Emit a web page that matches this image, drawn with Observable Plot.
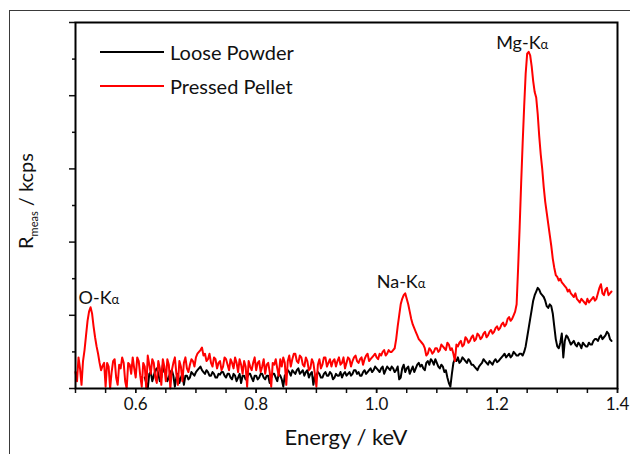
<!DOCTYPE html>
<html><head><meta charset="utf-8">
<script src="https://cdn.jsdelivr.net/npm/d3@7"></script>
<script src="https://cdn.jsdelivr.net/npm/@observablehq/plot@0.6"></script>
<style>
body{margin:0;background:#fff;}
#wrap{position:relative;width:630px;height:454px;overflow:hidden;font-family:Lato,sans-serif;background:#fff;}
#wrap svg{position:absolute;left:0;top:0;}
.ftop{position:absolute;left:9px;top:10px;width:640px;height:0;border-top:1.5px solid #3a3a3a;}
.fleft{position:absolute;left:9px;top:10px;width:0;height:460px;border-left:1.5px solid #3a3a3a;}
.leg{position:absolute;left:100px;height:20px;display:flex;align-items:center;font-size:20px;color:#111;}
.leg span.sw{display:inline-block;width:64px;height:2px;margin-right:6px;}
</style>
</head><body>
<div id="wrap"><div class="ftop"></div><div class="fleft"></div></div>
<script>
// Energy channels (keV), coarse set
const energy = [
0.500,0.505,0.510,0.515,0.520,0.525,0.530,0.535,0.540,0.545,
0.550,0.555,0.560,0.565,0.570,0.575,0.580,0.585,0.590,0.595,
0.600,0.605,0.610,0.615,0.620,0.625,0.630,0.635,0.640,0.645,
0.650,0.655,0.660,0.665,0.670,0.675,0.680,0.685,0.690,0.695,
0.700,0.705,0.710,0.715,0.720,0.725,0.730,0.735,0.740,0.745,
0.750,0.755,0.760,0.765,0.770,0.775,0.780,0.785,0.790,0.795,
0.800,0.805,0.810,0.815,0.820,0.825,0.830,0.835,0.840,0.845,
0.850,0.855,0.860,0.865,0.870,0.875,0.880,0.885,0.890,0.895,
0.900,0.905,0.910,0.915,0.920,0.925,0.930,0.935,0.940,0.945,
0.950,0.955,0.960,0.965,0.970,0.975,0.980,0.985,0.990,0.995,
1.000,1.005,1.010,1.015,1.020,1.025,1.030,1.035,1.040,1.045,
1.050,1.055,1.060,1.065,1.070,1.075,1.080,1.085,1.090,1.095,
1.100,1.105,1.110,1.115,1.120,1.125,1.130,1.135,1.140,1.145,
1.150,1.155,1.160,1.165,1.170,1.175,1.180,1.185,1.190,1.195,
1.200,1.205,1.210,1.215,1.220,1.225,1.230,1.235,1.240,1.245,
1.250,1.255,1.260,1.265,1.270,1.275,1.280,1.285,1.290,1.295,
1.300,1.305,1.310,1.315,1.320,1.325,1.330,1.335,1.340,1.345,
1.350,1.355,1.360,1.365,1.370,1.375,1.380,1.385,1.390];

// Pressed Pellet (red), coarse set
const pressedPellet = [
0.45,0.85,0.10,1.05,1.85,2.22,1.70,1.15,0.70,0.62,
0.05,0.60,0.45,0.80,0.10,0.55,0.70,0.00,0.65,0.85,
0.30,0.75,0.05,0.60,0.90,0.40,0.70,0.15,0.55,0.80,
0.20,0.65,0.50,0.85,0.10,0.60,0.70,0.55,0.65,0.75,
0.85,1.00,1.12,0.95,0.80,0.70,0.85,0.55,0.75,0.60,
0.80,0.50,0.70,0.85,0.45,0.65,0.75,0.05,0.60,0.70,
0.50,0.75,0.60,0.40,0.70,0.05,0.65,0.55,0.80,0.85,
0.10,0.90,0.80,0.95,0.70,0.85,0.60,0.75,0.55,0.70,
0.05,0.80,0.65,0.85,0.70,0.60,0.80,0.75,0.65,0.85,
0.70,0.80,0.75,0.90,0.70,0.85,0.80,0.95,0.80,0.90,
0.85,0.95,1.00,0.90,1.05,1.00,1.10,1.70,2.30,2.55,
2.45,2.10,1.75,1.55,1.35,1.25,1.10,0.95,1.05,1.00,
1.10,1.05,1.15,1.05,1.20,1.10,0.75,1.15,1.30,1.20,
1.35,1.30,1.45,1.35,1.45,1.40,1.55,1.45,1.60,1.55,
1.70,1.65,1.80,1.75,1.95,1.90,2.10,3.30,5.60,7.70,
9.15,9.10,8.40,7.95,6.90,6.00,5.10,4.50,3.90,3.30,
3.05,3.00,2.85,2.75,2.70,2.55,2.60,2.40,2.45,2.35,
2.45,2.40,2.50,2.45,2.75,2.60,2.70,2.55,2.65];

// Loose Powder (black), coarse set
const loosePowder = [
null,null,null,null,null,null,null,null,null,null,
null,null,null,null,null,null,null,null,null,null,
null,null,null,0.30,0.00,0.45,0.35,0.55,0.20,0.65,
0.40,0.30,0.50,0.05,0.40,0.30,0.10,0.35,0.30,0.40,
0.45,0.55,0.50,0.40,0.45,0.35,0.40,0.30,0.38,0.45,
0.30,0.40,0.25,0.35,0.30,0.15,0.35,0.30,0.40,0.20,
0.35,0.30,0.40,0.25,0.35,0.30,0.40,0.20,0.35,0.05,
0.40,0.45,0.50,0.40,0.55,0.45,0.35,0.50,0.40,0.10,
0.35,0.40,0.30,0.45,0.35,0.40,0.30,0.35,0.45,0.40,
0.35,0.45,0.40,0.50,0.45,0.35,0.50,0.45,0.55,0.50,
0.55,0.45,0.60,0.50,0.55,0.60,0.45,0.60,0.30,0.65,
0.55,0.40,0.60,0.55,0.70,0.65,0.50,0.75,0.80,0.65,
0.70,0.55,0.60,0.50,0.15,0.40,0.80,0.85,0.75,0.80,
0.70,0.75,0.65,0.55,0.60,0.70,0.75,0.65,0.70,0.75,
0.72,0.80,0.90,0.85,0.95,0.90,0.95,0.90,0.95,1.00,
1.40,1.90,2.40,2.65,2.70,2.55,2.40,2.20,2.25,1.70,
1.15,1.25,0.85,1.45,1.30,1.25,1.20,1.25,1.10,1.20,
1.15,1.20,1.30,1.35,1.40,1.35,1.45,1.50,1.30];

// In-between channels (keV)
const energyMid = [
0.5025,0.5075,0.5125,0.5175,0.5225,0.5275,0.5325,0.5375,0.5425,0.5475,
0.5525,0.5575,0.5625,0.5675,0.5725,0.5775,0.5825,0.5875,0.5925,0.5975,
0.6025,0.6075,0.6125,0.6175,0.6225,0.6275,0.6325,0.6375,0.6425,0.6475,
0.6525,0.6575,0.6625,0.6675,0.6725,0.6775,0.6825,0.6875,0.6925,0.6975,
0.7025,0.7075,0.7125,0.7175,0.7225,0.7275,0.7325,0.7375,0.7425,0.7475,
0.7525,0.7575,0.7625,0.7675,0.7725,0.7775,0.7825,0.7875,0.7925,0.7975,
0.8025,0.8075,0.8125,0.8175,0.8225,0.8275,0.8325,0.8375,0.8425,0.8475,
0.8525,0.8575,0.8625,0.8675,0.8725,0.8775,0.8825,0.8875,0.8925,0.8975,
0.9025,0.9075,0.9125,0.9175,0.9225,0.9275,0.9325,0.9375,0.9425,0.9475,
0.9525,0.9575,0.9625,0.9675,0.9725,0.9775,0.9825,0.9875,0.9925,0.9975,
1.0025,1.0075,1.0125,1.0175,1.0225,1.0275,1.0325,1.0375,1.0425,1.0475,
1.0525,1.0575,1.0625,1.0675,1.0725,1.0775,1.0825,1.0875,1.0925,1.0975,
1.1025,1.1075,1.1125,1.1175,1.1225,1.1275,1.1325,1.1375,1.1425,1.1475,
1.1525,1.1575,1.1625,1.1675,1.1725,1.1775,1.1825,1.1875,1.1925,1.1975,
1.2025,1.2075,1.2125,1.2175,1.2225,1.2275,1.2325,1.2375,1.2425,1.2475,
1.2525,1.2575,1.2625,1.2675,1.2725,1.2775,1.2825,1.2875,1.2925,1.2975,
1.3025,1.3075,1.3125,1.3175,1.3225,1.3275,1.3325,1.3375,1.3425,1.3475,
1.3525,1.3575,1.3625,1.3675,1.3725,1.3775,1.3825,1.3875];

const pressedPelletMid = [
0.20,0.55,0.75,1.45,2.10,2.05,1.40,0.95,0.50,0.70,
0.70,0.00,0.75,0.30,0.65,0.85,0.20,0.70,0.40,0.55,
0.85,0.35,0.70,0.00,0.65,0.80,0.30,0.75,0.10,0.60,
0.80,0.00,0.70,0.40,0.75,0.20,0.85,0.45,0.80,0.60,
0.95,1.05,0.90,0.75,0.95,0.60,0.80,0.70,0.50,0.85,
0.65,0.80,0.55,0.70,0.80,0.40,0.60,0.75,0.50,0.85,
0.70,0.45,0.80,0.65,0.45,0.70,0.80,0.35,0.60,0.70,
0.75,0.60,0.95,0.75,0.90,0.65,0.85,0.50,0.80,0.40,
0.65,0.55,0.85,0.60,0.80,0.75,0.60,0.85,0.70,0.55,
0.85,0.60,0.85,0.75,0.80,0.65,0.90,0.75,0.85,0.95,
0.80,0.90,1.05,0.95,1.00,1.05,1.35,2.00,2.45,2.60,
2.30,1.90,1.65,1.45,1.30,1.20,0.90,1.10,0.95,1.10,
1.00,1.20,1.10,1.25,1.05,0.95,1.20,1.25,1.15,1.40,
1.25,1.40,1.30,1.50,1.35,1.50,1.40,1.55,1.50,1.65,
1.60,1.75,1.70,1.90,1.85,2.00,2.30,4.40,6.70,8.60,
9.20,8.80,8.10,7.50,6.40,5.50,4.80,4.20,3.55,3.10,
2.95,2.90,2.80,2.65,2.60,2.50,2.45,2.35,2.40,2.30,
2.35,2.45,2.40,2.60,2.85,2.55,2.75,2.60];

const loosePowderMid = [
null,null,null,null,null,null,null,null,null,null,
null,null,null,null,null,null,null,null,null,null,
null,null,null,0.15,0.40,0.20,0.50,0.40,0.30,0.45,
0.20,0.45,0.35,0.30,0.15,0.40,0.35,0.25,0.45,0.35,
0.50,0.60,0.45,0.50,0.35,0.45,0.30,0.40,0.45,0.35,
0.40,0.30,0.40,0.20,0.40,0.35,0.25,0.40,0.30,0.35,
0.25,0.40,0.30,0.35,0.15,0.40,0.30,0.40,0.25,0.35,
0.50,0.35,0.45,0.50,0.40,0.50,0.45,0.30,0.45,0.35,
0.45,0.30,0.40,0.35,0.45,0.25,0.40,0.35,0.30,0.45,
0.40,0.35,0.50,0.40,0.35,0.45,0.40,0.50,0.45,0.60,
0.50,0.55,0.40,0.60,0.50,0.55,0.50,0.25,0.55,0.45,
0.60,0.50,0.45,0.65,0.60,0.55,0.70,0.65,0.75,0.80,
0.60,0.65,0.45,0.30,0.05,0.70,0.75,0.70,0.85,0.75,
0.80,0.65,0.60,0.50,0.65,0.80,0.70,0.75,0.65,0.80,
0.75,0.85,0.95,0.90,0.85,1.00,0.90,0.95,0.90,1.15,
1.65,2.15,2.55,2.75,2.60,2.50,2.25,2.30,2.05,1.35,
1.10,1.50,1.30,1.40,1.20,1.30,1.15,1.20,1.25,1.15,
1.25,1.20,1.35,1.30,1.45,1.40,1.55,1.35];

// Peak annotations
const peakLabels = ["O-Kα","Na-Kα","Mg-Kα"];
const peakEnergy = [0.525,1.045,1.250];
const peakValue = [2.22,2.55,9.15];

// Ticks
const xMajorTicks = [0.6,0.8,1.0,1.2,1.4];
const xMinorTicks = [0.5,0.55,0.6,0.65,0.7,0.75,0.8,0.85,0.9,0.95,1.0,1.05,1.1,1.15,1.2,1.25,1.3,1.35,1.4];
const yMajorTicks = [0,2,4,6,8,10];
const yMinorTicks = [1,3,5,7,9];

const seriesNames = ["Loose Powder","Pressed Pellet"];
const seriesColors = ["#000000","#ff0000"];

const rows = energy.map((e,i)=>({energy:e, loose:loosePowder[i], pressed:pressedPellet[i]}))
  .concat(energyMid.map((e,i)=>({energy:e, loose:loosePowderMid[i], pressed:pressedPelletMid[i]})))
  .sort((a,b)=>a.energy-b.energy);
const peaks = peakLabels.map((l,i)=>({label:l, energy:peakEnergy[i], value:peakValue[i]}));

const annot = [
  {dx:-12, dy:-3},
  {dx:-27, dy:-7},
  {dx:-31, dy:-5}
];

const plot = Plot.plot({
  width:630, height:454,
  marginLeft:75, marginRight:13, marginTop:22, marginBottom:66,
  style:{fontFamily:"Lato, sans-serif", background:"transparent", color:"#111"},
  x:{domain:[0.5,1.4], label:null},
  y:{domain:[0,10], label:null},
  marks:[
    Plot.axisX(xMinorTicks,{tickSize:5, tickFormat:()=>"", strokeWidth:1.5, label:null}),
    Plot.axisX(xMajorTicks,{tickSize:5, tickPadding:4, tickFormat:d=>d.toFixed(1), fontSize:17, strokeWidth:1.5, label:null}),
    Plot.axisY(yMajorTicks,{tickSize:6, tickFormat:()=>"", strokeWidth:1.5, label:null}),
    Plot.axisY(yMinorTicks,{tickSize:3, tickFormat:()=>"", strokeWidth:1.5, label:null}),
    Plot.line(rows.filter(d=>d.loose!=null), {x:"energy", y:"loose", stroke:seriesColors[0], strokeWidth:2}),
    Plot.line(rows, {x:"energy", y:"pressed", stroke:seriesColors[1], strokeWidth:2}),
    ...peaks.map((p,i)=>Plot.text([p], {x:"energy", y:"value", text:"label", textAnchor:"start", lineAnchor:"bottom", dx:annot[i].dx, dy:annot[i].dy, fontSize:18, fill:"#111"})),
    Plot.frame({stroke:"black", strokeWidth:2})
  ]
});

const wrap = document.getElementById("wrap");
wrap.appendChild(plot);
const svg = d3.select(plot);

// small alpha in peak labels
svg.selectAll("text").each(function(){
  const t = this.textContent;
  if (t && t.endsWith("α") && t.length > 1) {
    const el = d3.select(this);
    el.text(null);
    el.append("tspan").text(t.slice(0,-1));
    el.append("tspan").attr("font-size", 13).text("α");
  }
});

// y-axis label with subscript
const yl = svg.append("text")
  .attr("transform","translate(33,201) rotate(-90)")
  .attr("text-anchor","middle")
  .attr("font-size",20).attr("fill","#111")
  .attr("font-family","Lato, sans-serif");
yl.append("tspan").text("R");
yl.append("tspan").attr("font-size",11).attr("dy",5).text("meas");
yl.append("tspan").attr("dy",-5).text(" / kcps");

// x-axis label
svg.append("text")
  .attr("x",346).attr("y",445)
  .attr("text-anchor","middle")
  .attr("font-size",22).attr("fill","#111")
  .attr("font-family","Lato, sans-serif")
  .text("Energy / keV");

// legend
[52,86].forEach((top,i)=>{
  const d = document.createElement("div");
  d.className = "leg";
  d.style.top = (top-10) + "px";
  d.innerHTML = `<span class="sw" style="background:${seriesColors[i]}"></span>${seriesNames[i]}`;
  wrap.appendChild(d);
});
</script>
</body></html>
